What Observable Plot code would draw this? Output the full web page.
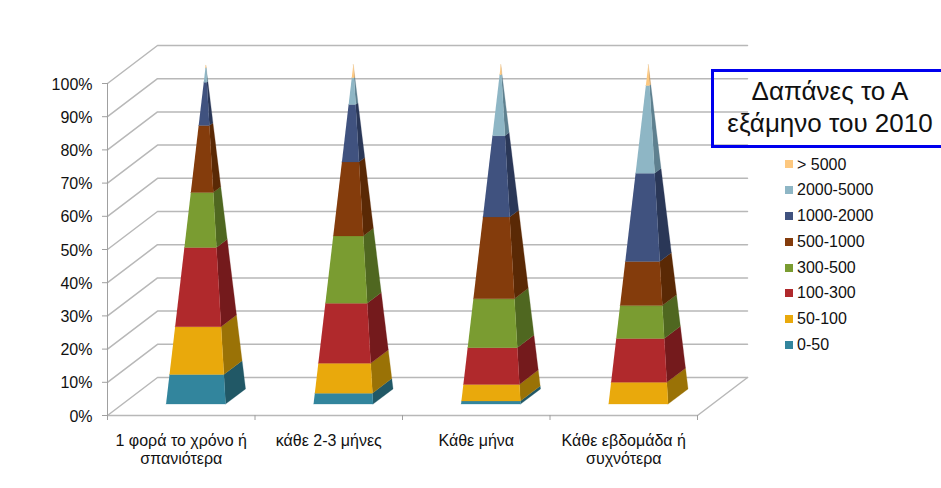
<!DOCTYPE html>
<html lang="el">
<head>
<meta charset="utf-8">
<script src="https://cdn.jsdelivr.net/npm/d3@7"></script>
<script src="https://cdn.jsdelivr.net/npm/@observablehq/plot@0.6"></script>
<style>
html,body{margin:0;padding:0;background:#fff;overflow:hidden;width:941px;height:488px}
#wrap{position:relative;width:941px;height:488px;font-family:"Liberation Sans",Arial,sans-serif;color:#111}
#wrap svg{position:absolute;left:0;top:0}
#title{position:absolute;left:711px;top:69px;width:232px;height:70px;border:3px solid #0000ee;text-align:center;font-size:26px;line-height:32px;padding-top:3px;box-sizing:content-box}
#legend{position:absolute;left:785px;top:151.5px}
#legend div{height:25.8px;line-height:25.8px;font-size:16px;white-space:nowrap;display:flex;align-items:center}
#legend i{display:inline-block;width:8px;height:8px;margin-right:4px}
</style>
</head>
<body>
<div id="wrap"></div>
<script>
const categories = ["1 φορά το χρόνο ή\nσπανιότερα", "κάθε 2-3 μήνες", "Κάθε μήνα", "Κάθε εβδομάδα ή\nσυχνότερα"];
const seriesNames = ["0-50", "50-100", "100-300", "300-500", "500-1000", "1000-2000", "2000-5000", "> 5000"];
const s0_50      = [8.7, 3.2, 0.9, 0];
const s50_100    = [14.1, 8.8, 4.9, 6.4];
const s100_300   = [23.3, 17.7, 10.8, 12.9];
const s300_500   = [16.2, 19.8, 14.4, 9.7];
const s500_1000  = [19.7, 21.8, 24.1, 13.0];
const s1000_2000 = [12.8, 16.9, 23.9, 26.0];
const s2000_5000 = [4.2, 7.9, 18.0, 25.8];
const s5000      = [0.8, 3.9, 3.0, 6.2];
const seriesValues = [s0_50, s50_100, s100_300, s300_500, s500_1000, s1000_2000, s2000_5000, s5000];
const frontColors = ["#32859d", "#e9a90c", "#b0292c", "#7a9c31", "#843c0c", "#40527f", "#8eb6c5", "#fdc87f"];
const sideColors  = ["#215866", "#9a7206", "#741a1c", "#4f6720", "#5a2905", "#2a3757", "#5e808f", "#c8965a"];
const yTicks = d3.range(0, 101, 10);

// Oblique 3D projection, expressed in the units of the x (category) and y (percent) scales
const depthX = 0.339, depthY = 11.45, halfWidth = 0.2017, halfDepth = 0.2, nudge = -0.003;
const project = (i, u, v, t) => ({
  x: i + 0.5 + nudge + halfWidth * u * (1 - t) + depthX * (0.5 + halfDepth * v * (1 - t)),
  y: 100 * t + depthY * (0.5 + halfDepth * v * (1 - t))
});

const front = [], side = [];
categories.forEach((_, i) => {
  let cum = 0;
  seriesValues.forEach((vals, s) => {
    const t0 = cum / 100, t1 = (cum + vals[i]) / 100;
    cum += vals[i];
    if (vals[i] <= 0) return;
    const id = i + "-" + s;
    [project(i, -1, -1, t0), project(i, 1, -1, t0), project(i, 1, -1, t1), project(i, -1, -1, t1)]
      .forEach(p => front.push({...p, id, color: frontColors[s]}));
    [project(i, 1, -1, t0), project(i, 1, 1, t0), project(i, 1, 1, t1), project(i, 1, -1, t1)]
      .forEach(p => side.push({...p, id, color: sideColors[s]}));
  });
});

const grid = [];
yTicks.forEach(p => {
  grid.push({x: 0, y: p, id: "s" + p}, {x: depthX, y: p + depthY, id: "s" + p}, {x: 4 + depthX, y: p + depthY, id: "s" + p});
});
grid.push({x: 0, y: 0, id: "f"}, {x: 4, y: 0, id: "f"}, {x: 4 + depthX, y: depthY, id: "f"});

const chart = Plot.plot({
  width: 941, height: 488,
  marginLeft: 107, marginRight: 244, marginTop: 83, marginBottom: 73,
  x: {domain: [0, 4]},
  y: {domain: [0, 100]},
  style: {fontFamily: '"Liberation Sans", Arial, sans-serif', background: "transparent", overflow: "visible"},
  marks: [
    Plot.line(grid, {x: "x", y: "y", z: "id", stroke: "#b8b8b8", strokeWidth: 1.5}),
    Plot.axisY({ticks: yTicks, tickFormat: d => d + "%", tickSize: 5, tickPadding: 10, label: null, fontSize: 16, stroke: "#a0a0a0", fill: "#111", text: null}),
    Plot.text(yTicks, {x: () => 0, y: d => d, text: d => d + "%", textAnchor: "end", dx: -15, dy: 1, fontSize: 16, fill: "#111"}),
    Plot.ruleX([0], {y1: 0, y2: 100, stroke: "#a0a0a0"}),
    Plot.axisX({ticks: [0, 1, 2, 3, 4], tickFormat: () => "", tickSize: 5, label: null, stroke: "#a0a0a0"}),
    Plot.line(side, {x: "x", y: "y", z: "id", fill: "color", stroke: "color", strokeWidth: 0.5, strokeOpacity: 0.5}),
    Plot.line(front, {x: "x", y: "y", z: "id", fill: "color", stroke: "color", strokeWidth: 0.5, strokeOpacity: 0.5}),
    Plot.text(categories, {x: (d, i) => i + 0.5, y: () => 0, text: d => d, dy: 18, lineAnchor: "top", lineHeight: 1.1, fontSize: 16, fill: "#111"})
  ]
});
const wrap = document.getElementById("wrap");
wrap.appendChild(chart);

const title = document.createElement("div");
title.id = "title";
title.innerHTML = "Δαπάνες το Α<br>εξάμηνο του 2010";
wrap.appendChild(title);

const legend = document.createElement("div");
legend.id = "legend";
seriesNames.map((n, i) => i).reverse().forEach(i => {
  const row = document.createElement("div");
  const sw = document.createElement("i");
  sw.style.background = frontColors[i];
  row.appendChild(sw);
  row.appendChild(document.createTextNode(seriesNames[i]));
  legend.appendChild(row);
});
wrap.appendChild(legend);
</script>
</body>
</html>
